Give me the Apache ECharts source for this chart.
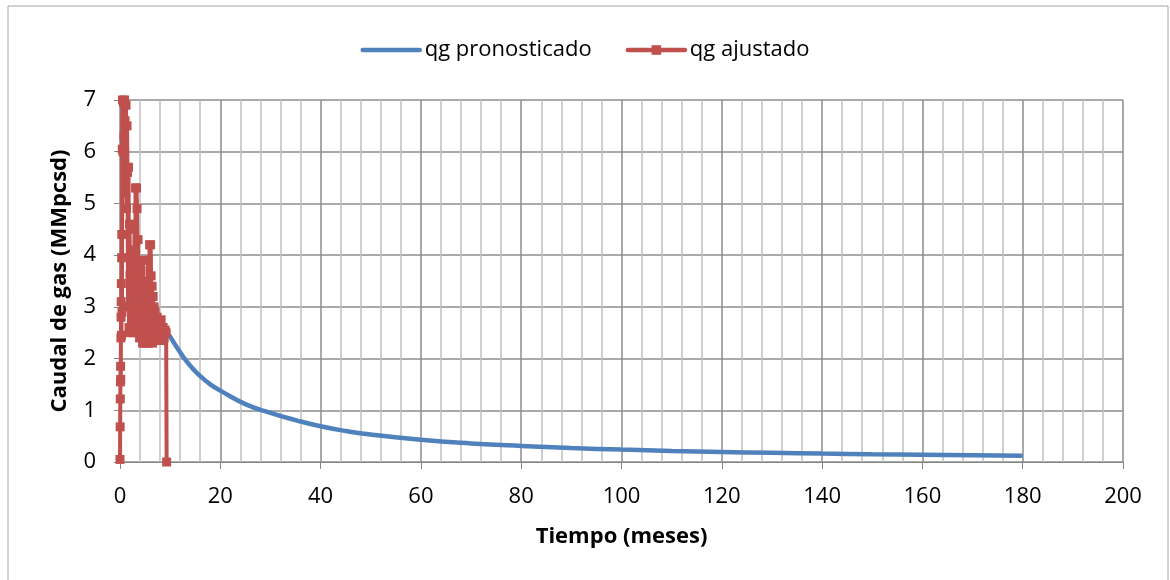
<!DOCTYPE html>
<html>
<head>
<meta charset="utf-8">
<script src="https://cdn.jsdelivr.net/npm/echarts@6/dist/echarts.min.js"></script>
<style>
html,body{margin:0;padding:0;background:#fff;}
#chart{width:1170px;height:580px;}
</style>
</head>
<body>
<div id="chart"></div>
<script>
// Forecast (qg pronosticado): [month, MMpcsd]
const pronosticado = [
  [9.3,2.52],[10,2.42],[12,2.12],[14,1.86],[16,1.66],[18,1.5],[20,1.38],[25,1.12],
  [30,0.95],[35,0.81],[40,0.69],[45,0.6],[50,0.53],[60,0.43],[70,0.36],[80,0.31],
  [90,0.27],[100,0.24],[110,0.215],[120,0.195],[130,0.178],[140,0.163],[150,0.15],
  [160,0.14],[170,0.13],[180,0.12]
];
// Matched history (qg ajustado): [month, MMpcsd]
const ajustado = [
  [0.0,0.05],[0.03,0.68],[0.06,1.22],[0.09,1.55],[0.12,1.85],[0.15,1.6],[0.18,2.4],[0.21,2.8],
  [0.24,3.1],[0.27,3.45],[0.3,2.45],[0.33,3.95],[0.36,4.4],[0.4,2.9],[0.45,6.05],[0.5,7.0],
  [0.6,6.0],[0.7,6.95],[0.8,6.3],[0.9,7.0],[1.0,6.6],[1.1,5.2],[1.2,6.9],[1.3,4.9],[1.4,6.5],
  [1.5,5.6],[1.6,3.0],[1.7,5.7],[1.8,2.6],[1.9,4.6],[2.0,3.6],[2.1,2.5],[2.2,3.9],[2.3,3.0],
  [2.4,4.1],[2.5,2.9],[2.6,3.6],[2.7,2.5],[2.8,3.3],[2.9,4.5],[3.0,2.7],[3.1,5.3],[3.2,3.4],
  [3.3,5.3],[3.4,4.9],[3.5,3.9],[3.6,4.3],[3.7,2.6],[3.8,3.8],[3.9,2.4],[4.0,3.4],[4.1,2.9],
  [4.2,3.7],[4.3,2.5],[4.4,3.3],[4.5,2.3],[4.6,3.9],[4.7,2.8],[4.8,3.5],[4.9,2.3],[5.0,3.2],
  [5.1,2.6],[5.2,3.0],[5.3,2.3],[5.4,3.5],[5.5,2.8],[5.6,3.9],[5.7,2.3],[5.8,3.1],[5.9,4.2],
  [6.0,2.6],[6.1,4.2],[6.2,3.6],[6.3,2.5],[6.4,3.4],[6.5,2.3],[6.6,3.2],[6.7,2.7],[6.8,3.0],
  [6.9,2.35],[7.0,2.9],[7.2,2.4],[7.4,2.8],[7.6,2.35],[7.8,2.7],[8.0,2.4],[8.2,2.75],[8.4,2.35],
  [8.6,2.6],[8.8,2.4],[9.0,2.55],[9.2,2.5],[9.3,0.0]
];
const seriesNames = ['qg pronosticado','qg ajustado'];
const xTitle = 'Tiempo (meses)';
const yTitle = 'Caudal de gas (MMpcsd)';

const FONT = '"Open Sans", "Noto Sans", sans-serif';
const chart = echarts.init(document.getElementById('chart'), null, {renderer:'canvas'});
chart.setOption({
  animation:false,
  backgroundColor:'#fff',
  graphic:[{type:'rect', shape:{x:8,y:6,width:1160,height:590}, style:{fill:'none',stroke:'#a6a6a6',lineWidth:1}, z:-1}],
  legend:{
    top:34, left:'center', itemWidth:57, itemHeight:12, itemGap:34,
    textStyle:{fontFamily:FONT,fontSize:22,color:'#000'},
    lineStyle:{width:4.5},
    data:[
      {name:seriesNames[0], itemStyle:{opacity:0}, lineStyle:{width:4.5,color:'#4F81BD',cap:'round'}},
      {name:seriesNames[1], itemStyle:{color:'#C0504D'}, lineStyle:{width:4.5,color:'#C0504D',cap:'round'}}
    ]
  },
  grid:{left:120,right:47,top:100,bottom:118},
  xAxis:{
    type:'value',min:0,max:200,interval:20,
    name:xTitle,nameLocation:'middle',nameGap:64,
    nameTextStyle:{fontFamily:FONT,fontSize:22,fontWeight:'bold',color:'#000'},
    axisLine:{show:true,lineStyle:{color:'#868686',width:1}},
    axisTick:{show:true,length:7,inside:false,lineStyle:{color:'#868686'}},
    axisLabel:{fontFamily:FONT,fontSize:22,color:'#000',margin:24},
    splitLine:{show:true,lineStyle:{color:'#8c8c8c',width:1.5}},
    minorTick:{show:false,splitNumber:5},
    minorSplitLine:{show:true,lineStyle:{color:'#c0c0c0',width:1.5}}
  },
  yAxis:{
    type:'value',min:0,max:7,interval:1,
    name:yTitle,nameLocation:'middle',nameGap:49,
    nameTextStyle:{fontFamily:FONT,fontSize:22,fontWeight:'bold',color:'#000'},
    axisLine:{show:true,lineStyle:{color:'#868686',width:1}},
    axisTick:{show:true,length:6,lineStyle:{color:'#868686'}},
    axisLabel:{fontFamily:FONT,fontSize:22,color:'#000',margin:24},
    splitLine:{show:true,lineStyle:{color:'#8c8c8c',width:1.5}}
  },
  series:[
    {
      name:seriesNames[0],type:'line',data:pronosticado,smooth:true,
      showSymbol:false,symbol:'none',
      lineStyle:{color:'#4F81BD',width:4.5},itemStyle:{color:'#4F81BD'},z:2
    },
    {
      name:seriesNames[1],type:'line',data:ajustado,
      symbol:'rect',symbolSize:9,showSymbol:true,
      lineStyle:{color:'#C0504D',width:4},itemStyle:{color:'#C0504D'},z:3
    }
  ]
});
</script>
</body>
</html>
